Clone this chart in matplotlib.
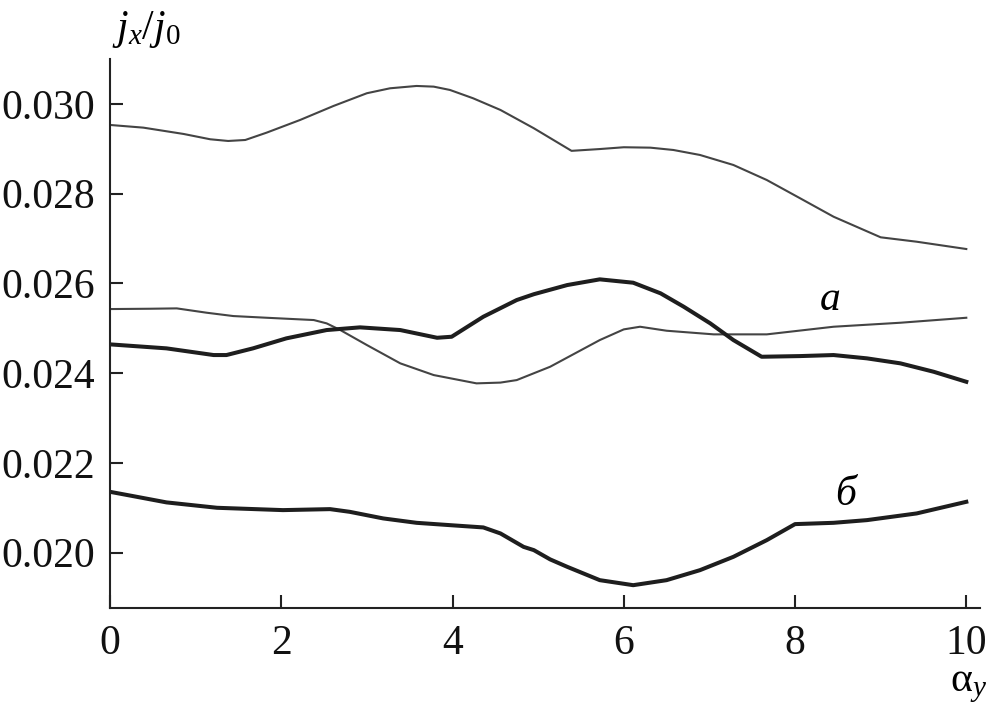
import matplotlib
matplotlib.use('Agg')
from matplotlib import pyplot as plt

plt.rcParams['font.family'] = 'Liberation Serif'
plt.rcParams['mathtext.fontset'] = 'custom'
plt.rcParams['mathtext.rm'] = 'Liberation Serif'
plt.rcParams['mathtext.it'] = 'Liberation Serif:italic'

# upper thin curve
top_x = [0, 0.39, 0.86, 1.17, 1.38, 1.58, 1.83, 2.22, 2.61, 3.0, 3.27, 3.58, 3.78, 3.97, 4.24, 4.56,
         4.95, 5.39, 5.72, 6.0, 6.31, 6.58, 6.89, 7.28, 7.67, 8.06, 8.45, 9.0, 9.42, 10.0]
top_y = [0.029532, 0.029472, 0.029331, 0.029213, 0.029175, 0.029197, 0.029361, 0.029643, 0.029955,
         0.030239, 0.030349, 0.030401, 0.030386, 0.030312, 0.030127, 0.029866, 0.029458, 0.028955,
         0.028995, 0.029035, 0.029026, 0.028974, 0.028863, 0.028640, 0.028305, 0.027897, 0.027487,
         0.027028, 0.026930, 0.026767]

# thin curve "a"
a_x = [0, 0.47, 0.78, 1.13, 1.44, 1.83, 2.38, 2.53, 2.69, 3.0, 3.39, 3.78, 4.28, 4.56, 4.75, 5.14,
       5.72, 6.0, 6.19, 6.5, 7.05, 7.67, 8.45, 9.23, 10.0]
a_y = [0.025429, 0.025436, 0.025444, 0.025347, 0.025273, 0.025235, 0.025184, 0.025110, 0.024961,
       0.024627, 0.024219, 0.023958, 0.023773, 0.023790, 0.023846, 0.024143, 0.024738, 0.024976,
       0.025035, 0.024946, 0.024865, 0.024865, 0.025035, 0.025124, 0.025235]

# thick middle curve
m_x = [0, 0.66, 1.21, 1.36, 1.67, 2.06, 2.53, 2.92, 3.39, 3.82, 3.99, 4.36, 4.75, 4.95, 5.34, 5.72,
       6.11, 6.43, 6.70, 7.01, 7.28, 7.61, 8.06, 8.45, 8.84, 9.23, 9.62, 10.0]
m_y = [0.024642, 0.024553, 0.024404, 0.024404, 0.024553, 0.024776, 0.024961, 0.025021, 0.024961,
       0.024789, 0.024812, 0.025258, 0.025630, 0.025760, 0.025964, 0.026091, 0.026016, 0.025779,
       0.025481, 0.025110, 0.024738, 0.024366, 0.024381, 0.024404, 0.024330, 0.024219, 0.024031,
       0.023808]

# thick curve "б"
b_x = [0, 0.27, 0.66, 1.25, 2.02, 2.57, 2.80, 3.19, 3.58, 3.97, 4.36, 4.56, 4.83, 4.95, 5.14, 5.34,
       5.72, 6.11, 6.50, 6.89, 7.28, 7.67, 8.0, 8.45, 8.84, 9.42, 10.0]
b_y = [0.021356, 0.021260, 0.021120, 0.021000, 0.020948, 0.020970, 0.020910, 0.020763, 0.020665,
       0.020613, 0.020562, 0.020428, 0.020129, 0.020056, 0.019850, 0.019684, 0.019387, 0.019275,
       0.019387, 0.019610, 0.019907, 0.020279, 0.020636, 0.020665, 0.020725, 0.020874, 0.021133]

fig = plt.figure(figsize=(9.89, 7.11), dpi=100)
ax = fig.add_axes([0.1112, 0.1449, 0.8797, 0.772])

ax.plot(top_x, top_y, color='#444444', lw=1.5)
ax.plot(a_x, a_y, color='#444444', lw=1.5)
ax.plot(m_x, m_y, color='#1e1e1e', lw=2.9, solid_joinstyle='round')
ax.plot(b_x, b_y, color='#1e1e1e', lw=2.9, solid_joinstyle='round')

ax.text(8.41, 0.02563, 'a', fontsize=30, family='Liberation Serif', style='italic',
        ha='center', va='center')
ax.text(8.59, 0.02128, 'б', fontsize=30, family='Liberation Serif', style='italic',
        ha='center', va='center')

ax.set_xlim(0, 10.16)
ax.set_ylim(0.018767, 0.031)
ax.set_xticks([0, 2, 4, 6, 8, 10])
ax.set_yticks([0.020, 0.022, 0.024, 0.026, 0.028, 0.030])
ax.set_yticklabels(['0.020', '0.022', '0.024', '0.026', '0.028', '0.030'])

for s in ['top', 'right']:
    ax.spines[s].set_visible(False)
for s in ['left', 'bottom']:
    ax.spines[s].set_linewidth(1.5)
    ax.spines[s].set_color('#222222')

ax.tick_params(direction='in', length=9.5, width=1.5, color='#222222',
               labelsize=30, labelcolor='#111111')
ax.tick_params(axis='y', pad=11)
ax.tick_params(axis='x', pad=12)
for lab in ax.get_xticklabels() + ax.get_yticklabels():
    lab.set_family('Liberation Serif')

fig.text(0.113, 1 - 30 / 711, r'$j_x/j_0$', fontsize=30, ha='left', va='center')
fig.text(987 / 989, 1 - 686 / 711, r'α$_y$', fontsize=30, family='Liberation Serif',
         ha='right', va='center')

fig.savefig('out.png', dpi=100)
